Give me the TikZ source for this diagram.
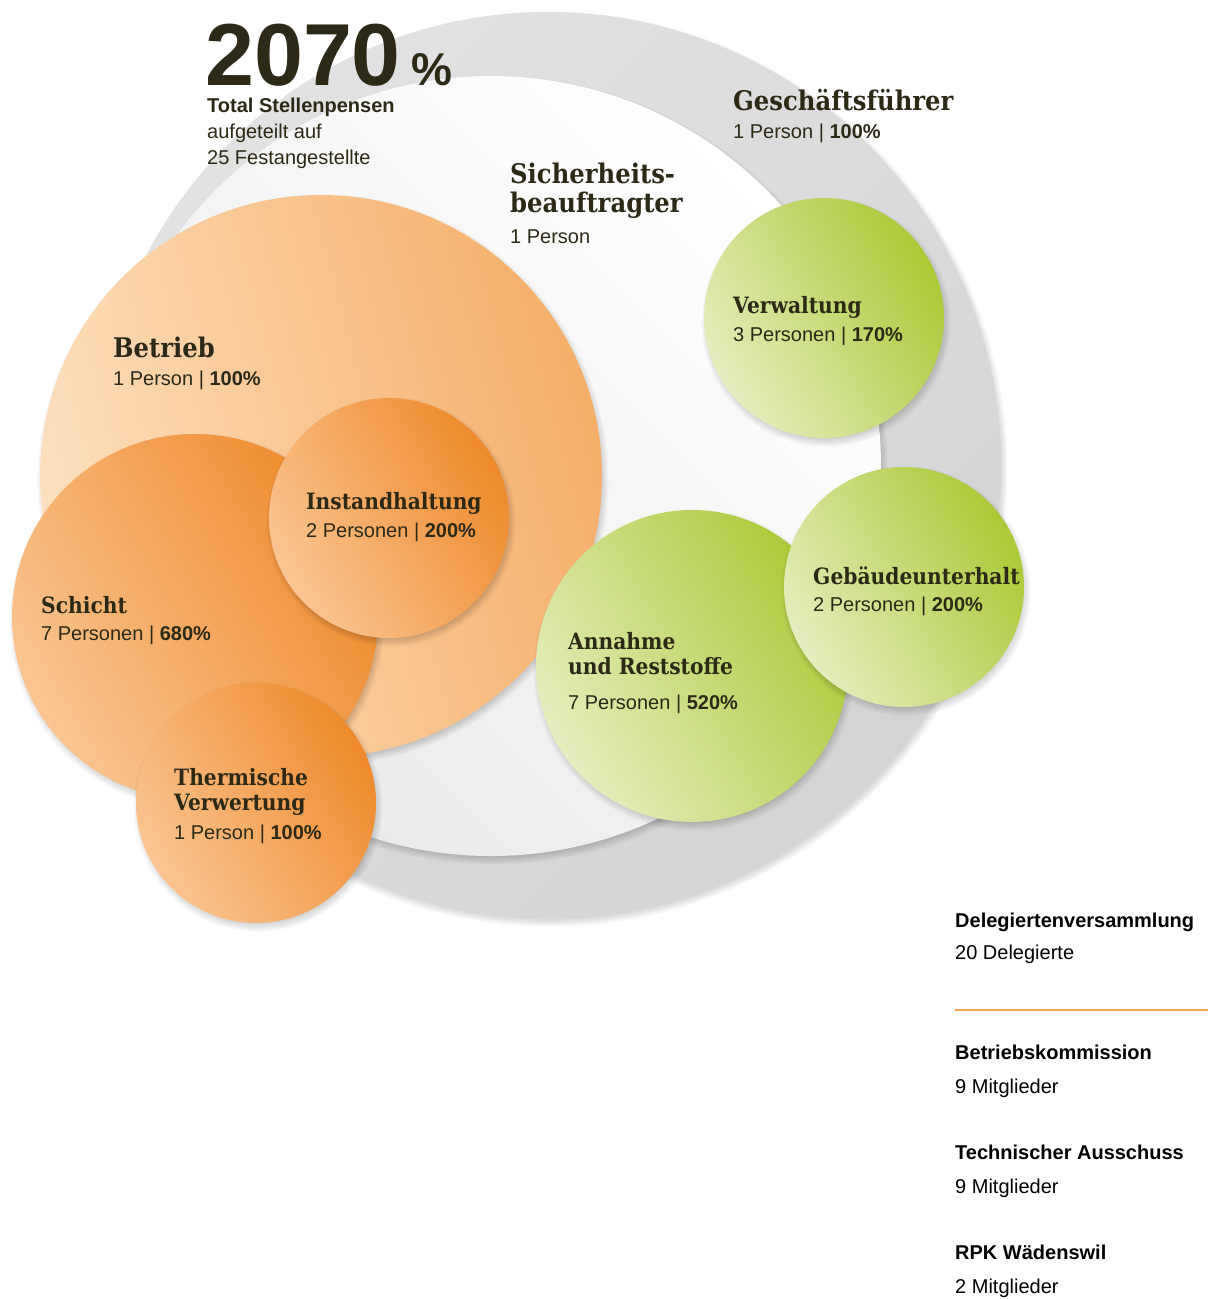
\documentclass[tikz,border=0pt]{standalone}
\usepackage{fontspec}
\setmainfont{Liberation Sans}
\newfontfamily\slabfont[FakeStretch=0.9]{DejaVu Serif}
\usepackage{xcolor}

\definecolor{ink}{HTML}{2C2917}
\definecolor{ringlight}{HTML}{E2E2E2}
\definecolor{ringdark}{HTML}{D4D4D4}
\definecolor{corelight}{HTML}{FFFFFF}
\definecolor{coredark}{HTML}{EAEAEA}
\definecolor{peachlight}{HTML}{FDE0C0}
\definecolor{peachdark}{HTML}{F5AE68}
\definecolor{orangelight}{HTML}{FAC592}
\definecolor{orangedark}{HTML}{EF8A2B}
\definecolor{limelight}{HTML}{E5EDBE}
\definecolor{limedark}{HTML}{ABC936}
\definecolor{rule}{HTML}{F5A85A}

% soft shadow below a bubble: x, y, radius
\newcommand\bubshadow[3]{%
  \foreach \k in {1,...,8}
    \fill[shadowfill] (#1+2,#2+4) circle[radius=#3-5+\k*1.2];}

\begin{document}
\begin{tikzpicture}[x=1pt, y=-1pt,
    shadowfill/.style={black, opacity=0.022},
    bubble/.style={circle, inner sep=0pt, minimum size=#1},
    peach/.style={bottom color=peachlight, top color=peachdark, shading angle=-75},
    orangey/.style={bottom color=orangelight, top color=orangedark, shading angle=-60},
    limey/.style={bottom color=limelight, top color=limedark, shading angle=-60},
    head/.style={anchor=base west, inner sep=0pt, text=ink, font=\slabfont\bfseries\fontsize{27}{30}\selectfont},
    headsm/.style={head, font=\slabfont\bfseries\fontsize{22.5}{25}\selectfont},
    info/.style={anchor=base west, inner sep=0pt, text=ink, font=\fontsize{20}{24}\selectfont},
    sidehead/.style={info, text=black, font=\bfseries\fontsize{20}{24}\selectfont},
    sideinfo/.style={info, text=black}]
    \useasboundingbox (0,0) rectangle (1208,1299);

    % rings
    \bubshadow{548}{465}{453}
    \node[bubble=906pt, top color=ringlight, bottom color=ringdark, shading angle=45] (ring) at (548,465) {};
    \bubshadow{491}{466}{390}
    \node[bubble=780pt, top color=corelight, bottom color=coredark, shading angle=-45] (core) at (491,466) {};

    % orange group
    \bubshadow{321}{476}{281}
    \node[bubble=562pt, peach] (betrieb) at (321,476) {};
    \bubshadow{195}{617}{183}
    \node[bubble=366pt, orangey] (schicht) at (195,617) {};
    \bubshadow{389}{518}{120}
    \node[bubble=240pt, orangey] (instand) at (389,518) {};
    \bubshadow{256}{803}{120}
    \node[bubble=240pt, orangey] (thermisch) at (256,803) {};

    % green group
    \bubshadow{692}{666}{156}
    \node[bubble=312pt, limey] (annahme) at (692,666) {};
    \bubshadow{904}{587}{120}
    \node[bubble=240pt, limey] (gebaeude) at (904,587) {};
    \bubshadow{824}{318}{120}
    \node[bubble=240pt, limey] (verwaltung) at (824,318) {};

    % total
    \node[anchor=base west, inner sep=0pt, text depth=0pt, text=ink, font=\bfseries\fontsize{88}{88}\selectfont] (total) at (205,85) {2070};
    \node[anchor=base west, inner sep=0pt, text depth=0pt, text=ink, font=\bfseries\fontsize{46}{46}\selectfont] (totalPct) at (411,85) {\%};
    \node[info, text height=14pt, font=\bfseries\fontsize{20}{24}\selectfont] (totalT) at (207,112) {Total Stellenpensen};
    \node[info] (totalA) at (207,138) {aufgeteilt auf};
    \node[info] (totalB) at (207,164) {25 Festangestellte};

    % labels
    \node[head] (gfT) at (733,110) {Geschäftsführer};
    \node[info] (gfI) at (733,138) {1 Person | \textbf{100\%}};
    \node[head] (sbT) at (510,183) {Sicherheits-};
    \node[head] (sbU) at (510,212) {beauftragter};
    \node[info] (sbI) at (510,243) {1 Person};
    \node[head] (betriebT) at (113,357) {Betrieb};
    \node[info] (betriebI) at (113,385) {1 Person | \textbf{100\%}};
    \node[headsm] (instandT) at (306,509) {Instandhaltung};
    \node[info] (instandI) at (306,537) {2 Personen | \textbf{200\%}};
    \node[headsm] (schichtT) at (41,613) {Schicht};
    \node[info] (schichtI) at (41,640) {7 Personen | \textbf{680\%}};
    \node[headsm] (thermischT) at (174,785) {Thermische};
    \node[headsm] (thermischU) at (174,810) {Verwertung};
    \node[info] (thermischI) at (174,839) {1 Person | \textbf{100\%}};
    \node[headsm] (verwaltungT) at (733,313) {Verwaltung};
    \node[info] (verwaltungI) at (733,341) {3 Personen | \textbf{170\%}};
    \node[headsm] (gebaeudeT) at (813,584) {Gebäudeunterhalt};
    \node[info] (gebaeudeI) at (813,611) {2 Personen | \textbf{200\%}};
    \node[headsm] (annahmeT) at (568,649) {Annahme};
    \node[headsm] (annahmeU) at (568,674) {und Reststoffe};
    \node[info] (annahmeI) at (568,709) {7 Personen | \textbf{520\%}};

    % side panel
    \node[sidehead] (dvT) at (955,927) {Delegiertenversammlung};
    \node[sideinfo] (dvI) at (955,959) {20 Delegierte};
    \coordinate (ruleL) at (955,1010);
    \coordinate (ruleR) at (1208,1010);
    \draw[rule, line width=1.2pt] (ruleL) -- (ruleR);
    \node[sidehead] (bkT) at (955,1059) {Betriebskommission};
    \node[sideinfo] (bkI) at (955,1093) {9 Mitglieder};
    \node[sidehead] (taT) at (955,1159) {Technischer Ausschuss};
    \node[sideinfo] (taI) at (955,1193) {9 Mitglieder};
    \node[sidehead] (rpkT) at (955,1259) {RPK Wädenswil};
    \node[sideinfo] (rpkI) at (955,1293) {2 Mitglieder};
\end{tikzpicture}
\end{document}
